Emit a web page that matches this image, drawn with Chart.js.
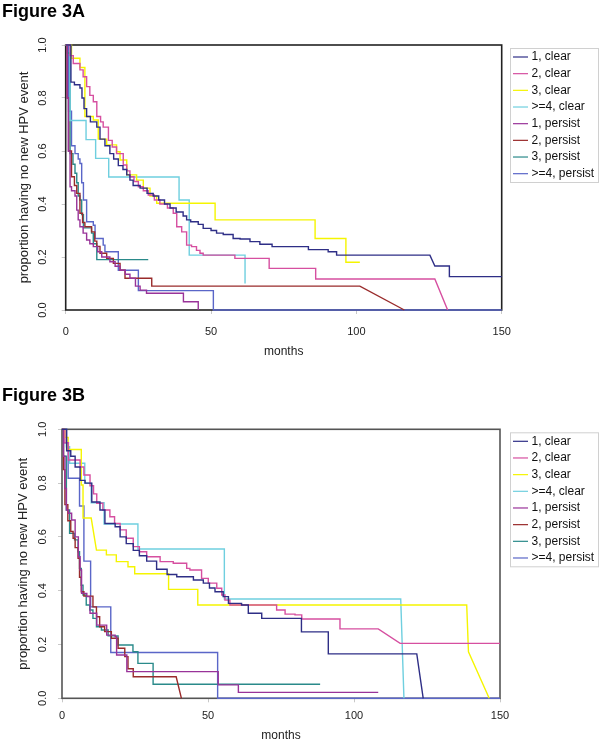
<!DOCTYPE html>
<html>
<head>
<meta charset="utf-8">
<script src="https://cdn.jsdelivr.net/npm/chart.js@4.4.1/dist/chart.umd.min.js"></script>
<style>
  body { margin: 0; background: #fff; }
  #page { position: relative; width: 601px; height: 743px; overflow: hidden; }
  #page canvas { position: absolute; left: 0; }
  .fig { position: absolute; left: 2px; font: bold 18px "Liberation Sans", Arial, sans-serif; line-height: 18px; color: #000; }
</style>
</head>
<body>
<div id="page">
  <canvas id="chartA" width="601" height="365" style="top:0"></canvas>
  <canvas id="chartB" width="601" height="373" style="top:370px"></canvas>
  <div class="fig" style="top:2px">Figure 3A</div>
  <div class="fig" style="top:386px">Figure 3B</div>
</div>
<script>
// groups, in legend order
const groups = ['1, clear', '2, clear', '3, clear', '>=4, clear', '1, persist', '2, persist', '3, persist', '>=4, persist'];
const colors = ['#2e2e86', '#d64fa0', '#f5f500', '#6fcfdf', '#993399', '#992b2b', '#2a8a8a', '#5a66c8'];

const xTicks = [0, 50, 100, 150];
const yTicks = [0, 0.2, 0.4, 0.6, 0.8, 1.0];

// ---- Figure 3A : months / proportion with no new event ----
const a1ClearT = [0, 1, 1.8, 3, 4.9, 5.6, 6.3, 7.2, 8.5, 10.7, 11.8, 13.5, 15.2, 16.5, 18.1, 19.7, 21, 22.1, 23.2, 25.6, 28, 30.1, 32, 34, 35.9, 38, 40.4, 41.6, 43, 45.6, 47.3, 50, 51.9, 54.2, 57.6, 60, 63.4, 66.8, 71, 83.5, 90.3, 93.2, 125.3, 127, 132, 150];
const a1ClearS = [1, 1, 0.86, 0.85, 0.838, 0.8, 0.76, 0.73, 0.71, 0.69, 0.645, 0.62, 0.59, 0.57, 0.545, 0.53, 0.51, 0.49, 0.47, 0.46, 0.44, 0.43, 0.415, 0.4, 0.385, 0.37, 0.355, 0.34, 0.333, 0.323, 0.308, 0.3, 0.29, 0.285, 0.27, 0.268, 0.258, 0.248, 0.239, 0.228, 0.22, 0.207, 0.207, 0.166, 0.126, 0.126];
const a2ClearT = [0, 1.5, 2.6, 4.9, 6, 7.2, 8.3, 9.5, 10.7, 12, 12.9, 14.7, 16, 17.5, 19.8, 21, 22.1, 23.5, 25, 26.7, 28.4, 30.5, 32.4, 35, 37, 38.2, 39.9, 41.6, 43.3, 45, 46.2, 47.3, 58.2, 70, 86, 127, 131.4];
const a2ClearS = [1, 0.96, 0.93, 0.906, 0.88, 0.843, 0.81, 0.786, 0.73, 0.71, 0.69, 0.64, 0.615, 0.59, 0.547, 0.525, 0.503, 0.485, 0.465, 0.45, 0.434, 0.415, 0.4, 0.385, 0.365, 0.314, 0.295, 0.245, 0.239, 0.225, 0.214, 0.207, 0.195, 0.157, 0.117, 0.117, 0];
const a3ClearT = [0, 2, 4.9, 6.6, 9.5, 11.2, 14.1, 17.5, 18.7, 21, 24.4, 26.7, 29, 31.3, 51.4, 85.8, 96.4, 101.2];
const a3ClearS = [1, 0.95, 0.915, 0.73, 0.717, 0.645, 0.623, 0.597, 0.566, 0.51, 0.49, 0.46, 0.43, 0.403, 0.34, 0.27, 0.18, 0.18];
const a4ClearT = [0, 1.5, 7, 10.3, 14.8, 39, 42.5, 61.7];
const a4ClearS = [1, 0.715, 0.643, 0.572, 0.502, 0.415, 0.207, 0.1];
const a1PersistT = [0, 0.5, 0.9, 1.5, 2, 3.2, 3.8, 4.3, 4.9, 6, 7.2, 8.3, 9.5, 11, 12.4, 15.2, 17, 18.7, 20.5, 22.1, 24, 25.6, 27.8, 40.5, 45.6];
const a1PersistS = [1, 0.8, 0.6, 0.465, 0.45, 0.43, 0.377, 0.34, 0.314, 0.29, 0.264, 0.25, 0.239, 0.22, 0.2, 0.182, 0.165, 0.15, 0.135, 0.12, 0.09, 0.075, 0.063, 0.031, 0];
const a2PersistT = [0, 0.5, 1, 2, 3, 3.8, 4.9, 5.8, 6.6, 8.9, 10, 10.7, 11.8, 14.1, 16.4, 18.7, 20.4, 29.6, 101.2, 116.5];
const a2PersistS = [1, 0.8, 0.6, 0.503, 0.47, 0.44, 0.365, 0.33, 0.314, 0.295, 0.26, 0.24, 0.214, 0.195, 0.176, 0.15, 0.12, 0.09, 0.09, 0];
const a3PersistT = [0, 0.5, 1.5, 2.5, 3.2, 3.8, 4.3, 4.9, 5.5, 6.1, 8.9, 9.5, 10.7, 28.4];
const a3PersistS = [1, 0.97, 0.59, 0.55, 0.516, 0.48, 0.43, 0.415, 0.36, 0.31, 0.29, 0.25, 0.19, 0.19];
const a4PersistT = [0, 1, 2, 3.2, 4.3, 4.9, 5.5, 6.1, 7.2, 9.5, 10.1, 12.9, 13.5, 18.1, 25, 50.8, 150];
const a4PersistS = [1, 0.75, 0.62, 0.59, 0.57, 0.553, 0.48, 0.415, 0.333, 0.32, 0.27, 0.245, 0.22, 0.15, 0.073, 0, 0];
// times where the drop is drawn as a slanted line instead of a step
const rampsA = [[127], [131.4], [], [], [], [116.5], [], []];

// ---- Figure 3B ----
const b1ClearT = [0, 1, 1.6, 3, 4.5, 6.2, 7.9, 10.2, 13, 14.7, 18.2, 19.9, 22, 24.4, 26.5, 29, 32.4, 36, 39.3, 45, 48.4, 50.5, 52.4, 55.2, 57, 61.5, 63.8, 68.4, 82, 91.2, 121.5, 123.7];
const b1ClearS = [1, 1, 0.92, 0.9, 0.86, 0.81, 0.8, 0.73, 0.7, 0.65, 0.638, 0.6, 0.575, 0.55, 0.53, 0.51, 0.48, 0.46, 0.452, 0.44, 0.428, 0.41, 0.396, 0.378, 0.353, 0.347, 0.316, 0.297, 0.247, 0.165, 0.165, 0];
const b2ClearT = [0, 1, 2.2, 6.2, 7.5, 9.6, 10.8, 11.9, 14, 16.4, 18, 19.9, 22, 24.4, 26.5, 29, 33.6, 38.1, 42.7, 43.8, 47.8, 50.1, 53, 54.7, 55.8, 57.5, 73, 73.5, 76.4, 79.8, 82.1, 95.2, 108.3, 115.8, 150];
const b2ClearS = [1, 0.95, 0.886, 0.86, 0.83, 0.79, 0.76, 0.725, 0.7, 0.675, 0.65, 0.626, 0.595, 0.564, 0.545, 0.526, 0.508, 0.502, 0.483, 0.477, 0.446, 0.428, 0.409, 0.384, 0.365, 0.347, 0.347, 0.328, 0.313, 0.31, 0.295, 0.258, 0.258, 0.204, 0.204];
const b3ClearT = [0, 1, 2.1, 5.5, 6.6, 7.2, 10, 11.8, 15.2, 18.6, 22.6, 24.9, 36.5, 46.5, 138.6, 139.2, 146.3];
const b3ClearS = [1, 0.97, 0.925, 0.925, 0.793, 0.67, 0.67, 0.551, 0.533, 0.508, 0.489, 0.463, 0.405, 0.347, 0.347, 0.173, 0];
const b4ClearT = [0, 1.5, 2.6, 7.8, 10, 14.4, 26, 55.6, 116, 117.1];
const b4ClearS = [1, 0.935, 0.874, 0.8, 0.727, 0.648, 0.555, 0.369, 0.369, 0];
const b1PersistT = [0, 0.5, 1, 1.5, 2.2, 3.3, 4.5, 5.6, 6.2, 6.7, 8.5, 9.6, 11.9, 15.3, 18.2, 18.7, 22.2, 53.5, 60.4, 108.3];
const b1PersistS = [1, 0.9, 0.78, 0.7, 0.688, 0.663, 0.6, 0.526, 0.477, 0.39, 0.378, 0.316, 0.272, 0.235, 0.229, 0.161, 0.099, 0.05, 0.022, 0.022];
const b2PersistT = [0, 0.5, 1, 2, 3, 3.8, 4.5, 5.5, 6, 6.6, 7.5, 10.6, 11.8, 12.9, 14.6, 16.9, 19.2, 21.5, 22.6, 24.4, 39.1, 40.9];
const b2PersistS = [1, 0.85, 0.72, 0.66, 0.62, 0.595, 0.56, 0.52, 0.45, 0.396, 0.38, 0.34, 0.303, 0.266, 0.248, 0.223, 0.186, 0.155, 0.11, 0.08, 0.08, 0];
const b3PersistT = [0, 0.5, 1.5, 2.6, 4.3, 5.5, 6, 6.6, 7.2, 8.3, 9.5, 10.6, 11.8, 13.5, 15.8, 19.2, 24.3, 26, 31.2, 88.4];
const b3PersistS = [1, 0.9, 0.7, 0.613, 0.589, 0.545, 0.483, 0.42, 0.384, 0.347, 0.328, 0.297, 0.266, 0.254, 0.232, 0.198, 0.173, 0.13, 0.052, 0.052];
const b4PersistT = [0, 0.5, 2.1, 6, 7.5, 9.8, 16.7, 53.3, 150];
const b4PersistS = [1, 0.95, 0.818, 0.715, 0.51, 0.34, 0.17, 0, 0];
const rampsB = [[123.7], [115.8], [11.8, 139.2, 146.3], [117.1], [], [40.9], [], []];

Chart.defaults.font.family = '"Liberation Sans", Arial, sans-serif';
Chart.defaults.color = '#222';

// km step curve: hold the previous value until the next time, then drop
function km(t, s, ramps) {
  const pts = [{ x: t[0], y: s[0] }];
  for (let i = 1; i < t.length; i++) {
    if (!ramps.includes(t[i])) pts.push({ x: t[i], y: s[i - 1] });
    pts.push({ x: t[i], y: s[i] });
  }
  return pts;
}

const framePlugin = {
  id: 'frame',
  beforeDatasetsDraw(chart, args, opts) {
    const { ctx, chartArea: a } = chart;
    ctx.save();
    ctx.strokeStyle = opts.color;
    ctx.lineWidth = opts.width;
    ctx.strokeRect(a.left, a.top, a.right - a.left, a.bottom - a.top);
    ctx.restore();
  }
};

const boxLegend = {
  id: 'boxLegend',
  afterDraw(chart, args, opts) {
    const ctx = chart.ctx;
    ctx.save();
    ctx.strokeStyle = '#d0d0d0';
    ctx.lineWidth = 1;
    ctx.strokeRect(opts.x + 0.5, opts.y + 0.5, opts.w, opts.h);
    ctx.font = '12px "Liberation Sans", Arial, sans-serif';
    ctx.textBaseline = 'middle';
    ctx.fillStyle = '#111';
    chart.data.datasets.forEach((d, i) => {
      const y = opts.y + 9 + i * 16.67;
      ctx.strokeStyle = d.borderColor;
      ctx.lineWidth = 1.2;
      ctx.beginPath();
      ctx.moveTo(opts.x + 3, y);
      ctx.lineTo(opts.x + 18, y);
      ctx.stroke();
      ctx.fillText(d.label, opts.x + 21.5, y);
    });
    ctx.restore();
  }
};

function makeChart(id, times, survs, ramps, box) {
  const datasets = groups.map((g, i) => ({
    label: g,
    data: km(times[i], survs[i], ramps[i]),
    borderColor: colors[i],
    borderWidth: 1.4,
    pointRadius: 0,
    fill: false,
    tension: 0,
    clip: false
  }));
  return new Chart(document.getElementById(id), {
    type: 'line',
    data: { datasets },
    options: {
      responsive: false,
      animation: false,
      events: [],
      layout: { padding: { top: box.top, right: 601 - box.right, left: 0, bottom: 0 } },
      plugins: {
        legend: { display: false },
        tooltip: { enabled: false },
        frame: { color: box.frame, width: 1.6 },
        boxLegend: box.legend
      },
      scales: {
        x: {
          type: 'linear', min: 0, max: 150,
          afterBuildTicks: s => { s.ticks = xTicks.map(v => ({ value: v })); },
          ticks: { padding: box.xPad, font: { size: 11 }, color: '#222' },
          grid: { drawOnChartArea: false, tickLength: 4, color: '#c8c8c8' },
          border: { display: false },
          title: { display: true, text: 'months', font: { size: 12 }, color: '#222', padding: { top: 0, bottom: box.xTitlePad } },
          afterFit: s => { s.height = box.canvasH - box.bottom; }
        },
        y: {
          type: 'linear', min: 0, max: 1,
          afterBuildTicks: s => { s.ticks = yTicks.map(v => ({ value: v })); },
          ticks: {
            padding: box.yPad, font: { size: 11 }, color: '#222',
            minRotation: 90, maxRotation: 90, crossAlign: 'center',
            callback: v => v.toFixed(1)
          },
          grid: { drawOnChartArea: false, tickLength: 4, color: '#c8c8c8' },
          border: { display: false },
          title: { display: true, text: 'proportion having no new HPV event', font: { size: 13 }, color: '#222', padding: { top: box.yTitlePad, bottom: 0 } },
          afterFit: s => { s.width = box.left; }
        }
      }
    },
    plugins: [framePlugin, boxLegend]
  });
}

makeChart('chartA',
  [a1ClearT, a2ClearT, a3ClearT, a4ClearT, a1PersistT, a2PersistT, a3PersistT, a4PersistT],
  [a1ClearS, a2ClearS, a3ClearS, a4ClearS, a1PersistS, a2PersistS, a3PersistS, a4PersistS],
  rampsA,
  { left: 65.7, top: 45, right: 501.7, bottom: 310, canvasH: 365, xPad: 11, yPad: 11, xTitlePad: 5.8, yTitlePad: 17,
    frame: '#222', legend: { x: 510, y: 48, w: 88, h: 134 } });

makeChart('chartB',
  [b1ClearT, b2ClearT, b3ClearT, b4ClearT, b1PersistT, b2PersistT, b3PersistT, b4PersistT],
  [b1ClearS, b2ClearS, b3ClearS, b4ClearS, b1PersistS, b2PersistS, b3PersistS, b4PersistS],
  rampsB,
  { left: 62, top: 59.3, right: 500, bottom: 328.3, canvasH: 373, xPad: 7, yPad: 7.4, xTitlePad: 0, yTitlePad: 16,
    frame: '#555', legend: { x: 510, y: 62.3, w: 88, h: 134 } });
</script>
</body>
</html>
